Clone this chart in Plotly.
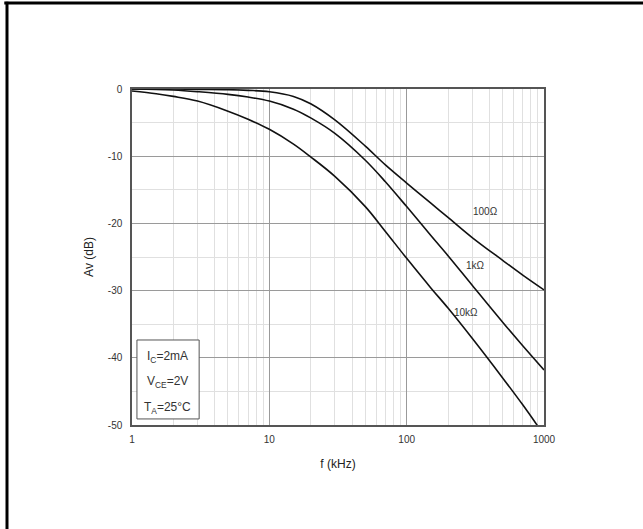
import math
import plotly.graph_objects as go

# ---- data ----
freq_khz = [1, 1.5, 2, 3, 5, 7, 10, 15, 20, 30, 50, 70, 100, 150, 200, 300, 500, 700, 1000]
av_100ohm = [0, 0, 0, -0.05, -0.1, -0.2, -0.4, -1.1, -2.2, -4.6, -8.5, -11.3, -14.0, -17.0, -19.1, -22.1, -25.5, -27.7, -29.9]
av_1kohm = [0, -0.05, -0.15, -0.4, -0.8, -1.2, -1.8, -3.0, -4.3, -6.6, -10.6, -13.8, -17.5, -21.8, -24.8, -29.2, -34.7, -38.2, -41.8]
av_10kohm = [-0.3, -0.7, -1.1, -1.8, -3.3, -4.5, -6.0, -8.2, -10.1, -13.0, -17.5, -21.2, -25.2, -29.6, -32.6, -37.1, -43.0, -47.0, -51.5]

series_names = ["100\u03a9", "1k\u03a9", "10k\u03a9"]
series_values = [av_100ohm, av_1kohm, av_10kohm]
label_freq = [372, 315, 270]
label_av = [-18.3, -26.2, -33.3]

x_tick_vals = [1, 10, 100, 1000]
x_tick_text = ["1", "10", "100", "1000"]
y_tick_vals = [0, -10, -20, -30, -40, -50]
y_tick_text = ["0", "-10", "-20", "-30", "-40", "-50"]

cond_lines = ["I<sub>C</sub>=2mA", "V<sub>CE</sub>=2V", "T<sub>A</sub>=25\u00b0C"]

FONT = "Liberation Sans, Arial, sans-serif"

fig = go.Figure()
for name, vals in zip(series_names, series_values):
    fig.add_trace(go.Scatter(
        x=freq_khz, y=vals, mode="lines", name=name,
        line=dict(color="#111111", width=1.6, shape="spline", smoothing=1.0),
        showlegend=False, hoverinfo="skip",
    ))

for name, lf, la in zip(series_names, label_freq, label_av):
    fig.add_annotation(x=math.log10(lf), y=la, xref="x", yref="y", text=name, showarrow=False,
                       font=dict(family=FONT, size=10, color="#333333"),
                       xanchor="center", yanchor="middle")

# conditions box
fig.add_shape(type="rect", xref="paper", yref="paper", x0=0.012, x1=0.163, y0=0.018, y1=0.253,
              line=dict(color="#555555", width=1), fillcolor="white", layer="above")
for i, t in enumerate(cond_lines):
    fig.add_annotation(x=0.087, y=0.202 - i * 0.0755, xref="paper", yref="paper", text=t,
                       showarrow=False, xanchor="center", yanchor="middle",
                       font=dict(family=FONT, size=12, color="#333333"))

# outer frame (top and left edges as in the reference)
fig.add_shape(type="line", xref="paper", yref="paper", x0=-0.31, x1=1.25, y0=1.256, y1=1.256,
              line=dict(color="black", width=3))
fig.add_shape(type="line", xref="paper", yref="paper", x0=-0.3034, x1=-0.3034, y0=1.26, y1=-0.32,
              line=dict(color="black", width=3))

fig.update_xaxes(
    type="log", range=[0, 3],
    tickvals=x_tick_vals, ticktext=x_tick_text, ticks="", ticklabelstandoff=4,
    showgrid=True, gridcolor="#9a9a9a", gridwidth=1,
    minor=dict(dtick="D1", showgrid=True, gridcolor="#e0e0e0", gridwidth=1, ticks=""),
    showline=True, linecolor="#555555", linewidth=1.5, mirror=True,
    tickfont=dict(family=FONT, size=10, color="#333333"),
    title=dict(text="f (kHz)", font=dict(family=FONT, size=12, color="#222222"), standoff=16),
    zeroline=False,
)
fig.update_yaxes(
    range=[-50, 0],
    tickvals=y_tick_vals, ticktext=y_tick_text, ticks="", ticklabelstandoff=6,
    showgrid=True, gridcolor="#9a9a9a", gridwidth=1,
    minor=dict(dtick=5, showgrid=True, gridcolor="#e0e0e0", gridwidth=1, ticks=""),
    showline=True, linecolor="#555555", linewidth=1.5, mirror=True,
    tickfont=dict(family=FONT, size=10, color="#333333"),
    title=dict(text="Av (dB)", font=dict(family=FONT, size=12, color="#222222"), standoff=12),
    zeroline=False,
)

fig.update_layout(
    width=643, height=529,
    margin=dict(l=132, r=99, t=89, b=104),
    paper_bgcolor="white", plot_bgcolor="white",
)

fig.write_html("out.html", config={"displayModeBar": False},
               post_script="document.body.style.margin='0px';")
